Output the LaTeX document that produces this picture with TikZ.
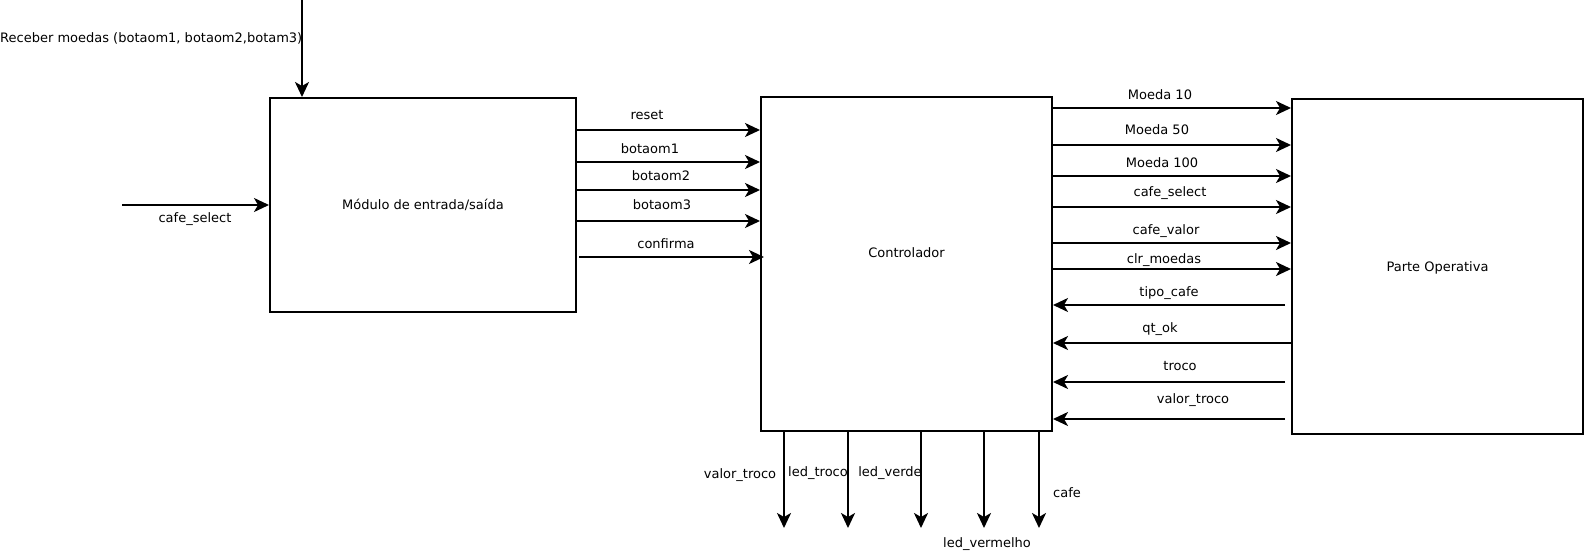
\documentclass[tikz,border=0pt]{standalone}
\usepackage{fontspec}
\setmainfont{DejaVu Sans}
\usetikzlibrary{arrows.meta}
\begin{document}
\begin{tikzpicture}[x=1pt,y=-1pt,
  every node/.style={font=\fontsize{13}{15}\selectfont},
  blk/.style={draw,line width=2pt,minimum width=#1,inner sep=0pt},
  sig/.style={line width=2pt,-{Stealth[length=15pt,width=14pt,inset=4pt]}},
  lbl/.style={inner sep=0pt,anchor=center}]
\useasboundingbox (0,0) rectangle (1585,554);
% blocks
\node[blk=306pt,minimum height=214pt] (b1) at (423,205) {Módulo de entrada/saída};
\node[blk=291pt,minimum height=334pt] (b2) at (906.5,264) {};
\node[lbl] (b2t) at (906.5,253) {Controlador};
\node[blk=291pt,minimum height=335pt] (b3) at (1437.5,266.5) {};
\node[lbl] (b3t) at (1437.5,268) {Parte Operativa};
% external inputs
\coordinate (topin) at (302,0);
\coordinate (cafein) at (122,205);
\draw[sig] (topin) -- (topin |- b1.north);
\node[lbl,anchor=west] (lrec) at (0,38) {Receber moedas (botaom1, botaom2,botam3)};
\draw[sig] (cafein) -- (cafein -| b1.west);
\node[lbl] (lcs) at (195,219) {cafe\_select};
% b1 -> b2
\draw[sig] (b1.east |- 0,130) -- (b2.west |- 0,130);
\node[lbl] (l1) at (647,115) {reset};
\draw[sig] (b1.east |- 0,162) -- (b2.west |- 0,162);
\node[lbl] (l2) at (650,149) {botaom1};
\draw[sig] (b1.east |- 0,190) -- (b2.west |- 0,190);
\node[lbl] (l3) at (661,176) {botaom2};
\draw[sig] (b1.east |- 0,221) -- (b2.west |- 0,221);
\node[lbl] (l4) at (662,205) {botaom3};
\draw[sig] ([xshift=2pt]b1.east |- 0,257) -- ([xshift=4pt]b2.west |- 0,257);
\node[lbl] (l5) at (666,244) {confirma};
% b2 -> b3
\draw[sig] (b2.east |- 0,108) -- (b3.west |- 0,108);
\node[lbl] (m1) at (1160,95) {Moeda 10};
\draw[sig] (b2.east |- 0,145) -- (b3.west |- 0,145);
\node[lbl] (m2) at (1157,130) {Moeda 50};
\draw[sig] (b2.east |- 0,176) -- (b3.west |- 0,176);
\node[lbl] (m3) at (1162,163) {Moeda 100};
\draw[sig] (b2.east |- 0,207) -- (b3.west |- 0,207);
\node[lbl] (m4) at (1170,193) {cafe\_select};
\draw[sig] (b2.east |- 0,243) -- (b3.west |- 0,243);
\node[lbl] (m5) at (1166,231) {cafe\_valor};
\draw[sig] (b2.east |- 0,269) -- (b3.west |- 0,269);
\node[lbl] (m6) at (1164,260) {clr\_moedas};
% b3 -> b2
\draw[sig] ([xshift=-6pt]b3.west |- 0,305) -- (b2.east |- 0,305);
\node[lbl] (r1) at (1169,293) {tipo\_cafe};
\draw[sig] (b3.west |- 0,343) -- (b2.east |- 0,343);
\node[lbl] (r2) at (1160,329) {qt\_ok};
\draw[sig] ([xshift=-6pt]b3.west |- 0,382) -- (b2.east |- 0,382);
\node[lbl] (r3) at (1180,366) {troco};
\draw[sig] ([xshift=-6pt]b3.west |- 0,419) -- (b2.east |- 0,419);
\node[lbl] (r4) at (1193,400) {valor\_troco};
% bottom outputs
\foreach \i/\x in {1/784,2/848,3/921,4/984,5/1039}{
  \coordinate (o\i) at (\x,528);
  \draw[sig] (b2.south -| o\i) -- (o\i);
}
\node[lbl] (o1l) at (740,475) {valor\_troco};
\node[lbl] (o2l) at (818,473) {led\_troco};
\node[lbl] (o3l) at (890,473) {led\_verde};
\node[lbl] (o4l) at (987,544) {led\_vermelho};
\node[lbl] (o5l) at (1067,493) {cafe};
\end{tikzpicture}
\end{document}
